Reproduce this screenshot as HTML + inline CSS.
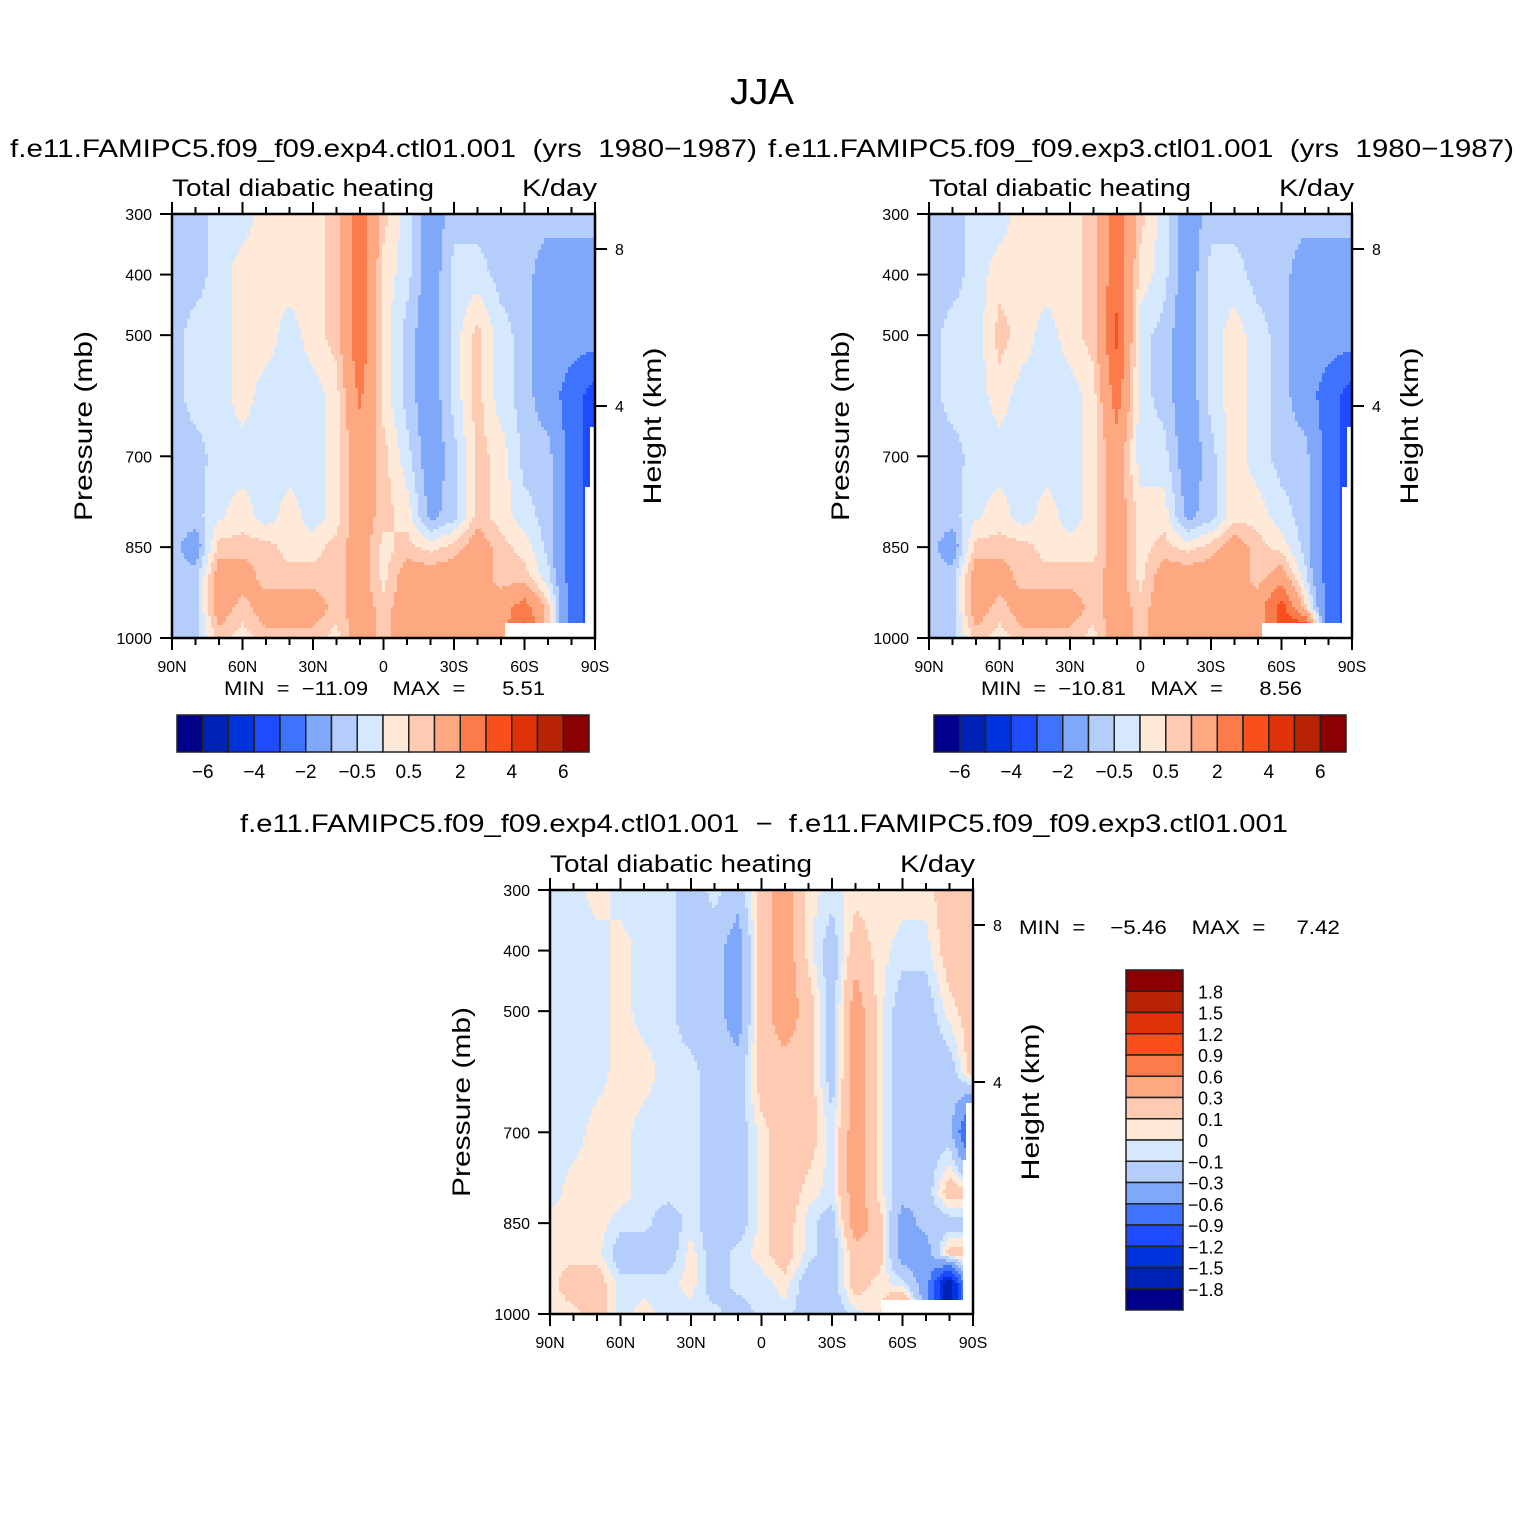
<!DOCTYPE html>
<html><head><meta charset="utf-8"><style>
body{margin:0;background:#fff}
svg{display:block;font-family:"Liberation Sans",sans-serif}
text{white-space:pre}
</style></head><body>
<svg id="fig" width="1524" height="1524" viewBox="0 0 1524 1524">
<rect width="1524" height="1524" fill="#fff"/>
<text x="730" y="104" font-size="36" textLength="64" lengthAdjust="spacingAndGlyphs">JJA</text>
<text x="10" y="157" font-size="25" textLength="747" lengthAdjust="spacingAndGlyphs">f.e11.FAMIPC5.f09_f09.exp4.ctl01.001  (yrs  1980−1987)</text>
<text x="768" y="157" font-size="25" textLength="746" lengthAdjust="spacingAndGlyphs">f.e11.FAMIPC5.f09_f09.exp3.ctl01.001  (yrs  1980−1987)</text>
<text x="240" y="832" font-size="25" textLength="1048" lengthAdjust="spacingAndGlyphs">f.e11.FAMIPC5.f09_f09.exp4.ctl01.001  −  f.e11.FAMIPC5.f09_f09.exp3.ctl01.001</text>
<g id="panels"></g>
</svg>
<script>
const lats=[90,80,70,60,50,40,30,20,10,0,-10,-20,-30,-40,-50,-60,-70,-80,-90];
const pressures=[300,400,500,600,700,800,850,900,950,1000];
const levelsAbs=[-6,-5,-4,-3,-2,-1,-0.5,0,0.5,1,2,3,4,5,6];
const levelsDiff=[-1.8,-1.5,-1.2,-0.9,-0.6,-0.3,-0.1,0,0.1,0.3,0.6,0.9,1.2,1.5,1.8];
const colors=["#00008b","#0022b4","#0033dd","#1e4bff","#3d73ff","#7fa7fa","#b4cdfb","#d5e8fd","#ffe9d9","#fecbb2","#fda880","#fb7b4b","#fa4e1c","#e03208","#b72303","#8b0000"];
const absTickLabels=["−6","−4","−2","−0.5","0.5","2","4","6"];
const diffTickLabels=["1.8","1.5","1.2","0.9","0.6","0.3","0.1","0","−0.1","−0.3","−0.6","−0.9","−1.2","−1.5","−1.8"];
const latLabels=["90N","60N","30N","0","30S","60S","90S"];
const pLabels=[300,400,500,700,850,1000];
const p1Values=[
[-0.7,-0.7,-0.3,-0.3,0.3,0.3,0.3,0.7,2.5,0.7,-0.3,-1.5,-0.7,-0.7,-0.7,-0.7,-0.7,-0.7,-0.7],
[-0.7,-0.7,-0.3,0.3,0.3,0.3,0.3,0.7,2.8,0.3,-0.3,-1.5,-0.3,-0.3,-0.7,-0.7,-1.5,-1.5,-1.5],
[-0.7,-0.3,-0.3,0.3,0.3,-0.3,0.3,0.7,2.8,0.3,-0.7,-1.5,-0.3,0.7,-0.3,-0.7,-1.5,-1.5,-1.5],
[-0.7,-0.3,-0.3,0.3,-0.3,-0.3,-0.3,0.3,2.2,0.3,-0.7,-1.5,-0.3,0.7,-0.3,-0.7,-1.5,-2.5,-3.5],
[-0.7,-0.7,-0.3,-0.3,-0.3,-0.3,-0.3,0.3,1.5,0.7,-0.3,-1.5,-0.7,0.7,0.3,-0.7,-0.7,-2.5,-3.5],
[-0.7,-0.7,-0.1,0.3,-0.3,0.3,-0.3,0.3,1.5,0.7,0.3,-1.2,-0.7,0.7,0.3,-0.3,-0.7,-2.5,-3.5],
[-0.7,-1.5,0.7,0.7,0.7,0.3,0.3,0.7,1.5,0.3,0.7,0.3,0.7,1.5,0.7,0.3,-0.7,-2.5,-3.5],
[-0.7,-0.7,1.5,1.5,0.7,0.7,0.7,0.7,1.5,0.3,1.5,1.5,1.5,1.5,0.7,0.7,-0.3,-2.5,-3.5],
[-0.7,-0.7,1.5,0.7,1.5,1.5,1.5,0.7,1.5,0.7,1.5,1.5,1.5,1.5,1.5,2.5,0.7,-2.5,-3.5],
[-0.7,-0.7,0.7,0.3,0.7,0.7,0.7,0.3,1.5,0.7,1.5,1.5,1.5,1.5,1.5,3.5,0.7,-2.5,-3.5]];
const p2Values=[
[-0.7,-0.7,-0.3,-0.3,0.3,0.3,0.3,0.7,2.5,0.7,-0.3,-1.5,-0.7,-0.7,-0.7,-0.7,-0.7,-0.7,-0.7],
[-0.7,-0.7,-0.3,0.3,0.3,0.3,0.3,0.7,2.8,0.3,-0.3,-1.5,-0.3,-0.3,-0.7,-0.7,-1.5,-1.5,-1.5],
[-0.7,-0.3,-0.3,0.7,0.3,-0.3,0.3,0.7,3.2,-0.3,-0.7,-1.5,-0.3,0.3,-0.3,-0.7,-1.5,-1.5,-1.5],
[-0.7,-0.3,-0.3,0.3,-0.3,-0.3,-0.3,0.3,2.5,-0.3,-0.7,-1.5,-0.3,0.3,-0.3,-0.7,-1.5,-2.5,-3.5],
[-0.7,-0.7,-0.3,-0.3,-0.3,-0.3,-0.3,0.3,1.5,-0.3,-0.3,-1.5,-0.7,0.3,-0.3,-0.7,-0.7,-2.5,-3.5],
[-0.7,-0.7,-0.1,0.3,-0.3,0.3,-0.3,0.3,1.5,0.3,0.3,-1.2,-0.7,0.3,0.3,-0.3,-0.7,-2.5,-3.5],
[-0.7,-1.5,0.7,0.7,0.7,0.3,0.3,0.3,1.5,0.3,0.7,0.3,0.7,1.5,0.7,0.3,-0.7,-2.5,-3.5],
[-0.7,-0.7,1.5,1.5,0.7,0.7,0.7,0.7,1.5,0.3,1.5,1.5,1.5,1.5,0.7,1.5,-0.3,-2.5,-3.5],
[-0.7,-0.7,1.5,0.7,1.5,1.5,1.5,0.7,1.5,0.7,1.5,1.5,1.5,1.5,1.5,3.5,0.7,-2.5,-3.5],
[-0.7,-0.7,0.7,0.3,0.7,0.7,0.7,0.3,1.5,0.7,1.5,1.5,1.5,1.5,1.5,3.5,5.5,-2.5,-3.5]];
const p3Values=[
[-.05,-.05,.05,-.05,-.05,-.05,-.2,-.05,-.2,.2,.45,.05,-.05,.05,.05,.05,.05,.2,.2],
[-.05,-.05,-.05,.05,-.05,-.05,-.2,-.2,-.45,.2,.45,.05,-.2,.2,.05,-.05,-.05,.2,.2],
[-.05,-.05,-.05,.05,-.05,-.05,-.2,-.2,-.45,.2,.45,.2,-.2,.45,.05,-.2,-.2,.05,.2],
[-.05,-.05,-.05,.05,.05,-.05,-.05,-.2,-.2,.2,.2,.2,-.2,.45,.05,-.2,-.2,-.2,.2],
[-.05,-.05,.05,.05,-.05,-.05,-.05,-.2,-.2,.05,.2,.2,-.05,.45,.05,-.2,-.2,-.2,-1.2],
[-.05,.05,.05,.05,-.05,-.05,-.05,-.2,-.2,.05,.2,.05,-.05,.45,.05,-.2,-.2,.2,.2],
[.05,.05,.05,-.05,-.05,-.2,-.05,-.2,-.2,.05,.2,-.05,-.2,.45,.2,-.45,-.2,-.2,-.2],
[.05,.05,.05,-.2,-.2,-.2,.05,-.2,-.05,.05,.2,-.05,-.2,.2,.2,-.45,-.45,.2,.2],
[.05,.2,.2,-.05,-.05,-.05,.05,-.2,-.05,-.05,.05,-.2,-.2,.2,.05,-.05,-.45,-1.8,.2],
[.05,.05,.2,-.05,.05,-.05,-.05,-.05,-.2,-.05,-.05,-.2,-.2,-.05,.05,.6,-.45,-1.8,.2]];
const minMax1=["−11.09","5.51"], minMax2=["−10.81","8.56"], minMax3=["−5.46","7.42"];

const NS="http://www.w3.org/2000/svg";
const root=document.getElementById('panels');
function el(tag,attrs,parent,text){const e=document.createElementNS(NS,tag);for(const k in attrs)e.setAttribute(k,attrs[k]);if(text!==undefined)e.textContent=text;(parent||root).appendChild(e);return e;}
function sample(vals,lat,p){
  let fi=(90-lat)/10; let i=Math.min(Math.floor(fi),lats.length-2); let tx=fi-i;
  let j=0; while(j<pressures.length-2&&p>pressures[j+1])j++;
  let ty=(p-pressures[j])/(pressures[j+1]-pressures[j]);
  const a=vals[j][i],b=vals[j][i+1],c=vals[j+1][i],d=vals[j+1][i+1];
  return (a*(1-tx)+b*tx)*(1-ty)+(c*(1-tx)+d*tx)*ty;
}
function colorFor(v,levels){let k=0;while(k<levels.length&&v>=levels[k])k++;return colors[k];}

function panel(name,X,Y,vals,levels,masks){
  const W=423,H=424;
  const xs=lat=>X+(90-lat)/180*W, ys=p=>Y+(p-300)/700*H;
  const g=el('g',{});
  
  
  const s=3;
  for(let py=Y;py<Y+H;py+=s){
    const p=300+(py+s/2-Y)/H*700;
    let runStart=X,runCol=null;
    for(let px=X;px<=X+W;px+=s){
      let col=null;
      if(px<X+W){const lat=90-(px+s/2-X)/W*180;col=colorFor(sample(vals,lat,p),levels);}
      if(col!==runCol){
        if(runCol!==null){const r=el('rect',{x:runStart,y:py,width:Math.min(px,X+W)-runStart+0.6,height:Math.min(s,Y+H-py)+0.6,fill:runCol},g);
          
          }
        runStart=px;runCol=col;
      }
    }
  }
  masks.forEach(m=>{const r=el('rect',{x:m[0],y:m[1],width:m[2],height:m[3],fill:'#fff'});
    
    });
  const f=el('rect',{x:X,y:Y,width:W,height:H,fill:'none',stroke:'#000','stroke-width':2.5});
  
  
  for(let lat=90;lat>=-90;lat-=10){
    const x=xs(lat),maj=lat%30===0,L=maj?12:7;
    el('line',{x1:x,x2:x,y1:Y,y2:Y-L,stroke:'#000','stroke-width':2});
    el('line',{x1:x,x2:x,y1:Y+H,y2:Y+H+L,stroke:'#000','stroke-width':2});
  }
  latLabels.forEach((t,k)=>{const lat=90-k*30;const e=el('text',{x:xs(lat),y:Y+H+34,'font-size':16,'text-anchor':'middle'},root,t);
    
    });
  pLabels.forEach(p=>{el('line',{x1:X,x2:X-12,y1:ys(p),y2:ys(p),stroke:'#000','stroke-width':2});
    const e=el('text',{x:X-20,y:ys(p)+6,'font-size':16,'text-anchor':'end'},root,String(p));
    
    });
  [[8,35],[4,192]].forEach(h=>{const y=Y+h[1];el('line',{x1:X+W,x2:X+W+12,y1:y,y2:y,stroke:'#000','stroke-width':2});
    const e=el('text',{x:X+W+20,y:y+6,'font-size':16},root,String(h[0]));
    
    });
  let e=el('text',{x:X,y:Y-18,'font-size':24,textLength:262,lengthAdjust:'spacingAndGlyphs'},root,'Total diabatic heating');
  
  
  e=el('text',{x:X+W-73,y:Y-18,'font-size':24,textLength:75,lengthAdjust:'spacingAndGlyphs'},root,'K/day');
  
  
  e=el('text',{x:0,y:0,'font-size':25,'text-anchor':'middle',textLength:190,lengthAdjust:'spacingAndGlyphs',transform:`translate(${X-80},${Y+212}) rotate(-90)`},root,'Pressure (mb)');
  
  
  e=el('text',{x:0,y:0,'font-size':25,'text-anchor':'middle',textLength:157,lengthAdjust:'spacingAndGlyphs',transform:`translate(${X+W+66},${Y+212}) rotate(-90)`},root,'Height (km)');
  
  
}
function hbar(X,Y,mm){
  const W=412,n=16,bw=W/n;
  for(let k=0;k<n;k++){const r=el('rect',{x:X+k*bw,y:Y,width:bw,height:37,fill:colors[k],stroke:'#222','stroke-width':1.5});
    
    }
  absTickLabels.forEach((t,k)=>{const e=el('text',{x:X+(2*k+1)*bw,y:Y+63,'font-size':19,'text-anchor':'middle'},root,t);
    
    });
  const e=el('text',{x:X+47,y:Y-20,'font-size':19,textLength:321,lengthAdjust:'spacingAndGlyphs'},root,'MIN  =  '+mm[0]+'    MAX  =      '+mm[1]);
  
  
}
panel('panel1',172,214,p1Values,levelsAbs,[[505,623,90,15],[590,427,5,211],[585,487,10,151]]);
hbar(177,715,minMax1);
panel('panel2',929,214,p2Values,levelsAbs,[[1262,623,90,15],[1347,427,5,211],[1342,487,10,151]]);
hbar(934,715,minMax2);
panel('panel3',550,890,p3Values,levelsDiff,[[881,1300,92,14],[966,1103,7,211],[963,1160,10,154]]);
(function(){const X=1126,Y=970,W=57,H=340,n=16,bh=H/n;
  for(let k=0;k<n;k++){const r=el('rect',{x:X,y:Y+k*bh,width:W,height:bh,fill:colors[n-1-k],stroke:'#222','stroke-width':1.5});
    
    }
  diffTickLabels.forEach((t,k)=>{const e=el('text',{x:t.startsWith('−')?1188:1198,y:Y+(k+1)*bh+7,'font-size':18},root,t);
    
    });
  const e=el('text',{x:1019,y:934,'font-size':19,textLength:321,lengthAdjust:'spacingAndGlyphs'},root,'MIN  =    '+minMax3[0]+'    MAX  =     '+minMax3[1]);
  
  
})();
</script>
</body></html>
